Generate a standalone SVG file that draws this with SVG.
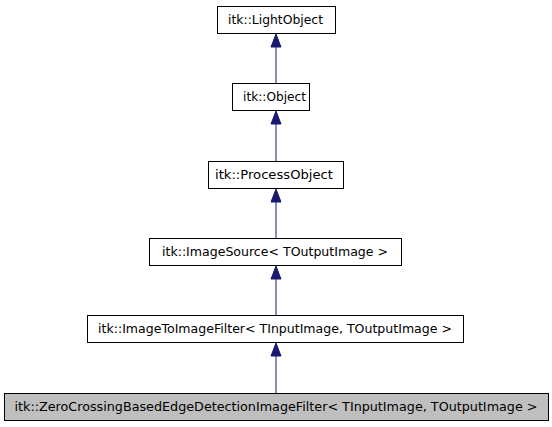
<svg xmlns="http://www.w3.org/2000/svg" width="552" height="427" viewBox="0 0 552 427">
<defs>
<style>
.box rect{fill:#ffffff;stroke:#000000;stroke-width:1}
.box.cur rect{fill:#bfbfbf}
.box text{font-family:"DejaVu Sans",sans-serif;font-size:11.5px;text-anchor:middle;fill:#000000}
.edge{stroke:#191970;stroke-width:1;fill:none}
.head{fill:#191970;stroke:#191970;stroke-width:1}
</style>
</defs>
<rect width="552" height="427" fill="#ffffff"/>
<g id="edges">
<line class="edge" x1="276" y1="83" x2="276" y2="47"/>
<polygon class="head" points="276,34 271,47 281,47"/>
<line class="edge" x1="276" y1="161" x2="276" y2="124"/>
<polygon class="head" points="276,111 271,124 281,124"/>
<line class="edge" x1="276" y1="238" x2="276" y2="202"/>
<polygon class="head" points="276,189 271,202 281,202"/>
<line class="edge" x1="276" y1="315" x2="276" y2="279"/>
<polygon class="head" points="276,266 271,279 281,279"/>
<line class="edge" x1="276" y1="393" x2="276" y2="356"/>
<polygon class="head" points="276,343 271,356 281,356"/>
</g>
<g id="n1" class="box"><rect x="217.5" y="6.5" width="118" height="27"/><text x="275.5" y="24" textLength="95" lengthAdjust="spacingAndGlyphs">itk::LightObject</text></g>
<g id="n2" class="box"><rect x="232.5" y="83.5" width="77" height="27"/><text x="274.5" y="101" textLength="63" lengthAdjust="spacingAndGlyphs">itk::Object</text></g>
<g id="n3" class="box"><rect x="208.5" y="161.5" width="135" height="27"/><text x="274" y="179" textLength="118" lengthAdjust="spacingAndGlyphs">itk::ProcessObject</text></g>
<g id="n4" class="box"><rect x="149.5" y="238.5" width="252" height="27"/><text x="275" y="256" textLength="226" lengthAdjust="spacingAndGlyphs">itk::ImageSource&lt; TOutputImage &gt;</text></g>
<g id="n5" class="box"><rect x="87.5" y="315.5" width="376" height="27"/><text x="275" y="333" textLength="354" lengthAdjust="spacingAndGlyphs">itk::ImageToImageFilter&lt; TInputImage, TOutputImage &gt;</text></g>
<g id="n6" class="box cur"><rect x="4.5" y="393.5" width="544" height="27"/><text x="276" y="411" textLength="523" lengthAdjust="spacingAndGlyphs">itk::ZeroCrossingBasedEdgeDetectionImageFilter&lt; TInputImage, TOutputImage &gt;</text></g>
</svg>
